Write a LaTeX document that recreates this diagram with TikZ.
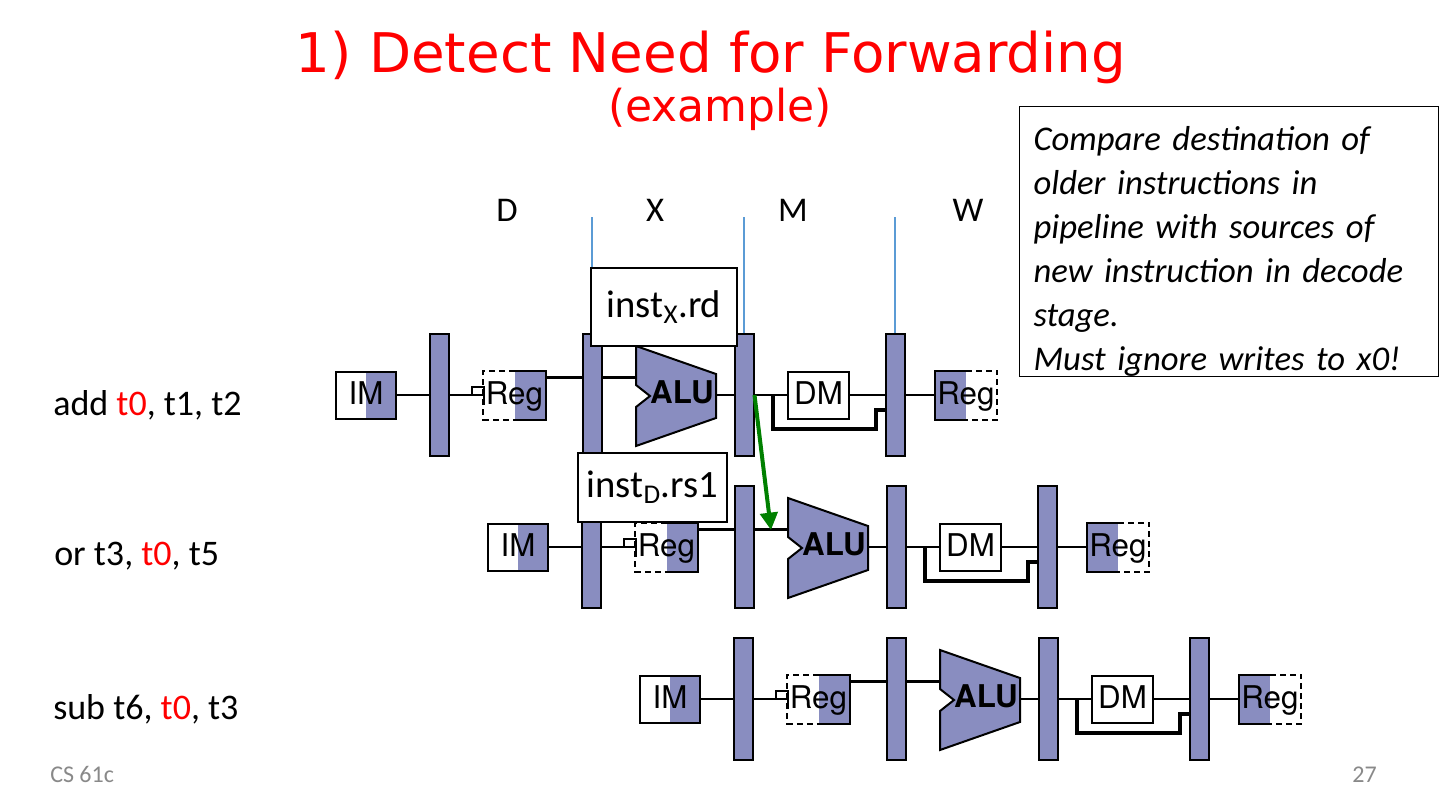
\documentclass[tikz,border=0pt]{standalone}
\usepackage{fontspec}
\setmainfont{Carlito}
\newfontfamily\titlefont{DejaVu Sans}
\newfontfamily\unitfont{TeX Gyre Heros}
\usetikzlibrary{arrows.meta, calc}
\definecolor{pipeblue}{RGB}{137,141,192}
\definecolor{stageblue}{RGB}{91,155,213}
\definecolor{fwdgreen}{RGB}{0,128,0}
\definecolor{slidered}{RGB}{255,0,0}
\definecolor{footgray}{RGB}{137,137,137}
\tikzset{
  unit/.style={draw, line width=1.5pt, minimum width=45.5pt, minimum height=35.25pt,
    inner sep=0pt, text height=16.5pt, text depth=3pt,
    font=\unitfont\fontsize{23.5}{23.5}\selectfont},
  halfright/.style={path picture={\fill[pipeblue] (path picture bounding box.south)
    rectangle (path picture bounding box.north east);}},
  halfleft/.style={path picture={\fill[pipeblue] (path picture bounding box.south west)
    rectangle (path picture bounding box.north);}},
  latch/.style={draw, fill=pipeblue, line width=1.5pt, minimum width=14.25pt,
    minimum height=91.5pt, inner sep=0pt},
  alubody/.style={draw, fill=pipeblue, line width=1.5pt, line join=miter},
  alulabel/.style={inner sep=0pt, text height=16.5pt, text depth=3pt,
    font=\unitfont\bfseries\fontsize{23.5}{23.5}\selectfont},
  dashreg/.style={line width=1.5pt, dash pattern=on 4.5pt off 3pt},
  solidreg/.style={line width=1.5pt},
  wire/.style={line width=1.9pt},
  bus/.style={line width=2.5pt},
  stub/.style={line width=1.2pt},
  stageline/.style={draw=stageblue, line width=1.1pt},
  stage/.style={anchor=base, inner sep=0pt, font=\fontsize{26}{26}\selectfont},
  tag/.style={draw, fill=white, line width=0.8pt, inner sep=0pt,
    font=\fontsize{29}{29}\selectfont},
  fwd/.style={draw=fwdgreen, line width=3pt, -{Triangle[length=13pt, width=13pt]}},
  instr/.style={anchor=base west, inner sep=0pt, font=\fontsize{27}{27}\selectfont},
  note/.style={draw, line width=0.8pt, anchor=north west, text width=293.25pt, align=left,
    inner xsep=10.5pt, inner ysep=0pt, text height=33pt, text depth=169.5pt,
    font=\itshape\fontsize{26}{33}\selectfont},
  foot/.style={inner sep=0pt, text=footgray, font=\fontsize{18}{18}\selectfont}
}

\begin{document}
\begin{tikzpicture}[x=0.75pt, y=-0.75pt]
  \path[use as bounding box, fill=white] (0,0) rectangle (1440,811);

  \node[anchor=base, inner sep=0pt, text=slidered, font=\titlefont\fontsize{41}{41}\selectfont]
    (title) at (711,72) {1) Detect Need for Forwarding};
  \node[anchor=base, inner sep=0pt, text=slidered, font=\titlefont\fontsize{33}{33}\selectfont]
    (subtitle) at (720,121) {(example)};

  \foreach \r in {0,1,2} {
    \begin{scope}[shift={(152*\r,152*\r)}]
      \node[unit, halfright] (im\r) at (366,395) {IM};
      \node[latch] (la\r) at (439,395) {};
      \node[unit, draw=none, halfright] (rd\r) at (514.5,395) {Reg};
      \node[latch] (lb\r) at (592,395) {};
      \draw[alubody] (636,346) coordinate (alutl\r) -- (716,374) -- (716,418) -- (636,446)
        -- (636,407) -- (650,396) -- (636,385) -- cycle;
      \node[alulabel] (alu\r) at (682,394) {ALU};
      \coordinate (aluout\r) at (716,395);
      \node[latch] (lc\r) at (744,395) {};
      \node[unit] (dm\r) at (818.5,395) {DM};
      \node[latch] (ld\r) at (895,395) {};
      \node[unit, draw=none, halfleft] (rw\r) at (966,395) {Reg};
      \draw[dashreg] (rd\r.north) -| (rd\r.south west) -- (rd\r.south);
      \draw[solidreg] (rd\r.north) -| (rd\r.south east) -- (rd\r.south);
      \draw[solidreg] (rw\r.north) -| (rw\r.south west) -- (rw\r.south);
      \draw[dashreg] (rw\r.north) -| (rw\r.south east) -- (rw\r.south);
      \coordinate (bus\r) at ([yshift=-5.25pt]rd\r.north east);
      \draw[wire] (im\r.east) -- (la\r.west);
      \draw[wire] (la\r.east) -- (rd\r.west);
      \draw[stub] (472,395) |- (484,387) -- (484,405);
      \draw[bus] (bus\r) -- (bus\r -| lb\r.west);
      \draw[bus] (bus\r -| lb\r.east) -- (bus\r -| alutl\r);
      \draw[wire] (aluout\r) -- (lc\r.west);
      \draw[wire] (lc\r.east) -- (dm\r.west);
      \draw[wire] (dm\r.east) -- (ld\r.west);
      \draw[wire] (ld\r.east) -- (rw\r.west);
      \draw[bus] (773,395) |- (876,429) |- (ld\r.west |- 0,410);
    \end{scope}
  }

  \draw[stageline] (lb0.north) -- ++(0,-116);
  \draw[stageline] (lc0.north) -- ++(0,-116);
  \draw[stageline] (ld0.north) -- ++(0,-116);
  \node[stage] (sd) at (507,221) {D};
  \node[stage] (sx) at (655,221) {X};
  \node[stage] (sm) at (793,221) {M};
  \node[stage] (sw) at (968,221) {W};

  \node[tag, minimum width=109.5pt, minimum height=58.5pt] (instx) at (664,307)
    {inst\textsubscript{X}.rd};
  \node[tag, minimum width=111.75pt, minimum height=51.75pt] (instd) at (652.5,487.5)
    {inst\textsubscript{D}.rs1};

  \coordinate (fwdtip) at (771,530);
  \draw[fwd] (lc0.east) -- (fwdtip);

  \node[instr] (iadd) at (53,415) {add \textcolor{slidered}{t0}, t1, t2};
  \node[instr] (ior) at (54,565) {or t3, \textcolor{slidered}{t0}, t5};
  \node[instr] (isub) at (53,719) {sub t6, \textcolor{slidered}{t0}, t3};

  \node[note] (cmp) at (1019,106) {Compare destination of\\ older instructions in\\
    pipeline with sources of\\ new instruction in decode\\ stage.\\ Must ignore writes to x0!};

  \node[foot, anchor=base west] (course) at (50,782) {CS 61c};
  \node[foot, anchor=base east] (page) at (1377,782) {27};
\end{tikzpicture}
\end{document}
